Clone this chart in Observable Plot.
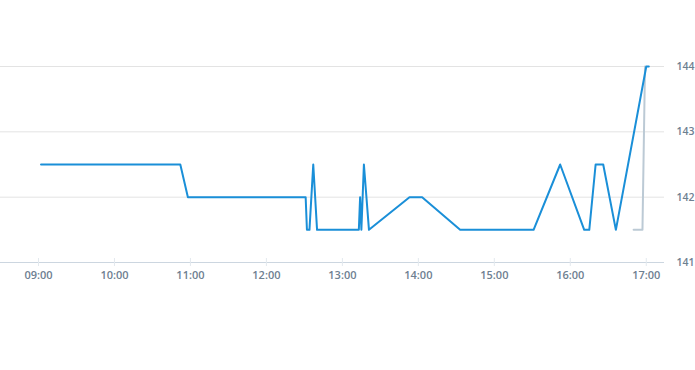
<!DOCTYPE html>
<html>
<head>
<meta charset="utf-8">
<script src="https://cdn.jsdelivr.net/npm/d3@7"></script>
<script src="https://cdn.jsdelivr.net/npm/@observablehq/plot@0.6"></script>
<style>
  html, body { margin: 0; padding: 0; background: #fff; }
</style>
</head>
<body>
<div id="chart"></div>
<script>
const blueTimes = ["09:02","10:52","10:58","12:31","12:32","12:34","12:37","12:40","13:13","13:14","13:15","13:17","13:21","13:53","14:03","14:33","15:31","15:52","16:11","16:15","16:20","16:26","16:36","17:00","17:02"];
const blueValues = [142.5,142.5,142,142,141.5,141.5,142.5,141.5,141.5,142,141.5,142.5,141.5,142,142,141.5,141.5,142.5,141.5,141.5,142.5,142.5,141.5,144,144];
const greyTimes = ["16:50","16:57","16:59"];
const greyValues = [141.5,141.5,144];
const xTicks = [9,10,11,12,13,14,15,16,17];
const yTicks = [141,142,143,144];

const toHours = s => { const [h, m] = s.split(":").map(Number); return h + m / 60; };
const blue = blueTimes.map((t, i) => ({x: toHours(t), y: blueValues[i]}));
const grey = greyTimes.map((t, i) => ({x: toHours(t), y: greyValues[i]}));

const labelColor = "#6e8091";
const chart = Plot.plot({
  width: 695,
  height: 370,
  marginLeft: 0,
  marginRight: 31,
  marginTop: 66,
  marginBottom: 108,
  style: {fontFamily: "'Open Sans', sans-serif", fontSize: "11px", fontWeight: 600, color: labelColor, background: "#fff"},
  x: {type: "linear", domain: [8.5, 17.24]},
  y: {type: "linear", domain: [141, 144]},
  marks: [
    Plot.gridY(yTicks.filter(d => d !== 141), {stroke: "#e3e3e3", strokeOpacity: 1}),
    Plot.ruleY([141], {stroke: "#ccd6e0", strokeWidth: 1}),
    Plot.ruleX(xTicks, {x: d => d, y1: 141, y2: 141, insetTop: -4, insetBottom: -4, stroke: "#e3e9ee"}),
    Plot.axisX({ticks: xTicks, tickSize: 0, tickPadding: 9, tickFormat: d => String(d).padStart(2, "0") + ":00", label: null, fill: labelColor}),
    Plot.axisY({ticks: yTicks, anchor: "right", tickSize: 0, tickPadding: 12, tickFormat: d => String(d), label: null, fill: labelColor, fontSize: 10.5}),
    Plot.line(grey, {x: "x", y: "y", stroke: "#bccad5", strokeWidth: 2}),
    Plot.line(blue, {x: "x", y: "y", stroke: "#1a8fd8", strokeWidth: 2})
  ]
});
document.getElementById("chart").appendChild(chart);
</script>
</body>
</html>
